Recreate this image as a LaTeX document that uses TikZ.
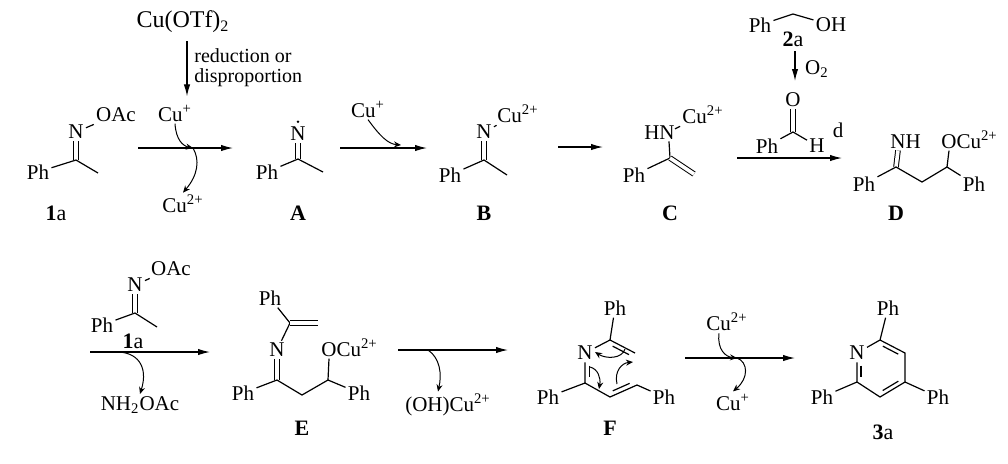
\documentclass[tikz,border=0pt]{standalone}
\usepackage{fontspec}
\setmainfont{Liberation Serif}
\usetikzlibrary{arrows.meta,calc}
\tikzset{
    atom-label/.style = {inner sep=1pt, font=\fontsize{10.5}{12}\selectfont},
    cmpd-label/.style = {inner sep=1pt, font=\fontsize{11}{12}\selectfont},
    note-text/.style = {inner sep=0pt, align=left, font=\fontsize{10}{10}\selectfont},
    bond/.style = {line width=0.6pt},
    dbl-bond/.style = {double, line width=0.5pt, double distance=1.8pt},
    rxn-arrow/.style = {line width=0.6pt, -{Latex[length=6pt,width=3.2pt]}},
    e-arrow/.style = {line width=0.5pt, -{Stealth[length=3.5pt,width=3pt]}},
}

\begin{document}
\begin{tikzpicture}[x=0.5pt, y=-0.5pt]
\useasboundingbox (0,0) rectangle (1008,463);

% ---- 1a
\node[atom-label] (n-1a) at (76,132) {N};
\node[atom-label] (oac-1a) at (116,115) {OAc};
\coordinate (c-1a) at (76,160);
\node[atom-label] (ph-1a) at (38,172) {Ph};
\coordinate (me-1a) at (98,173);
\draw[bond] (n-1a) -- (oac-1a);
\draw[dbl-bond] (n-1a) -- (c-1a);
\draw[bond] (ph-1a) -- (c-1a) -- (me-1a);
\node[cmpd-label] (lbl-1a) at (56,213) {\textbf{1}a};

% ---- Cu(OTf)2 -> Cu+
\node[atom-label, font=\fontsize{12}{12}\selectfont] (cuotf) at (183,22) {Cu(OTf)\textsubscript{2}};
\node[atom-label] (cu-a) at (175,113) {Cu\textsuperscript{+}};
\draw[rxn-arrow] ([xshift=2pt,yshift=-3pt]cuotf.south) -- ([xshift=6pt,yshift=3pt]cu-a.north);
\node[note-text, anchor=west] (red-note) at (194,68) {reduction or\\disproportion};

% 1a -> A
\coordinate (arr1-s) at (138,148);
\coordinate (arr1-e) at (233,148);
\draw[rxn-arrow] (arr1-s) -- (arr1-e);
\node[atom-label] (cu2-a) at (183,204) {Cu\textsuperscript{2+}};
\coordinate (arr1-m) at (193,148);
\draw[e-arrow] (cu-a.south) .. controls (176,140) and (183,146) .. (arr1-m);
\draw[e-arrow] (arr1-m) .. controls (200,160) and (198,175) .. (cu2-a.north);

% ---- A
\node[atom-label] (n-A) at (298,134) {N};
\fill ([yshift=1.5pt]n-A.north) circle (0.7pt);
\coordinate (c-A) at (298,159);
\node[atom-label] (ph-A) at (267,172) {Ph};
\coordinate (me-A) at (323,172);
\draw[dbl-bond] (n-A) -- (c-A);
\draw[bond] (ph-A) -- (c-A) -- (me-A);
\node[cmpd-label] (lbl-A) at (298,213) {\textbf{A}};

% A -> B
\coordinate (arr2-s) at (340,148);
\coordinate (arr2-e) at (427,148);
\draw[rxn-arrow] (arr2-s) -- (arr2-e);
\node[atom-label] (cu-b) at (368,109) {Cu\textsuperscript{+}};
\coordinate (arr2-m) at (401,145);
\draw[e-arrow] (cu-b.south) .. controls (380,136) and (388,144) .. (arr2-m);

% ---- B
\node[atom-label] (n-B) at (484,132) {N};
\node[atom-label] (cu-B) at (518,114) {Cu\textsuperscript{2+}};
\coordinate (c-B) at (484,160);
\node[atom-label] (ph-B) at (450,175) {Ph};
\coordinate (me-B) at (507,175);
\draw[bond] (n-B) -- (cu-B);
\draw[dbl-bond] (n-B) -- (c-B);
\draw[bond] (ph-B) -- (c-B) -- (me-B);
\node[cmpd-label] (lbl-B) at (484,213) {\textbf{B}};

% B -> C
\coordinate (arr3-s) at (558,147);
\coordinate (arr3-e) at (603,147);
\draw[rxn-arrow] (arr3-s) -- (arr3-e);

% ---- C
\node[atom-label, anchor=base east] (hn-C) at (677,139) {HN};
\node[atom-label] (cu-C) at (703,115) {Cu\textsuperscript{2+}};
\coordinate (c-C) at (670,158);
\node[atom-label] (ph-C) at (634,175) {Ph};
\coordinate (ch2-C) at (694,174);
\draw[bond] (hn-C.north east) ++(-1pt,-3pt) -- (cu-C);
\draw[bond] ([xshift=-4pt]hn-C.south east) -- (c-C);
\draw[bond] (ph-C) -- (c-C);
\draw[dbl-bond] (c-C) -- (ch2-C);
\node[cmpd-label] (lbl-C) at (670,213) {\textbf{C}};

% ---- 2a -> PhCHO
\node[atom-label] (ph-2a) at (760,25) {Ph};
\node[atom-label] (oh-2a) at (831,25) {OH};
\coordinate (ch2-2a) at (793,14);
\draw[bond] (ph-2a) -- (ch2-2a) -- (oh-2a);
\node[cmpd-label] (lbl-2a) at (793,39) {\textbf{2}a};
\coordinate (ox-s) at (795,51);
\coordinate (ox-e) at (795,81);
\draw[rxn-arrow] (ox-s) -- (ox-e);
\node[atom-label] (o2) at (817,69) {O\textsubscript{2}};
\node[atom-label] (o-ald) at (793,100) {O};
\coordinate (c-ald) at (793,132);
\node[atom-label] (ph-ald) at (767,146) {Ph};
\node[atom-label] (h-ald) at (817,146) {H};
\node[atom-label] (d-note) at (838,130) {d};
\draw[dbl-bond] (o-ald) -- (c-ald);
\draw[bond] (ph-ald) -- (c-ald) -- (h-ald);

% C -> D
\coordinate (arr4-s) at (737,158);
\coordinate (arr4-e) at (842,158);
\draw[rxn-arrow] (arr4-s) -- (arr4-e);

% ---- D
\node[atom-label, anchor=base west] (nh-D) at (888,148) {NH};
\coordinate (c-D) at (896,167);
\node[atom-label] (ph-D) at (864,184) {Ph};
\coordinate (ch2-D) at (922,182);
\coordinate (ch-D) at (947,167);
\node[atom-label, anchor=base west] (ocu-D) at (939,148) {OCu\textsuperscript{2+}};
\node[atom-label] (ph2-D) at (974,184) {Ph};
\draw[dbl-bond] ([xshift=5pt]nh-D.south west) -- (c-D);
\draw[bond] (ph-D) -- (c-D) -- (ch2-D) -- (ch-D) -- (ph2-D);
\draw[bond] (ch-D) -- ([xshift=5pt]ocu-D.south west);
\node[cmpd-label] (lbl-D) at (896,213) {\textbf{D}};

% ---- 1a (second row)
\node[atom-label] (n-1b) at (135,285) {N};
\node[atom-label] (oac-1b) at (171,269) {OAc};
\coordinate (c-1b) at (135,313);
\node[atom-label] (ph-1b) at (102,325) {Ph};
\coordinate (me-1b) at (157,327);
\draw[bond] (n-1b) -- (oac-1b);
\draw[dbl-bond] (n-1b) -- (c-1b);
\draw[bond] (ph-1b) -- (c-1b) -- (me-1b);
\node[cmpd-label] (lbl-1b) at (133,341) {\textbf{1}a};

% D -> E
\coordinate (arr5-s) at (90,352);
\coordinate (arr5-e) at (210,352);
\draw[rxn-arrow] (arr5-s) -- (arr5-e);
\coordinate (arr5-m) at (117,352);
\node[atom-label] (nh2oac) at (140,405) {NH\textsubscript{2}OAc};
\draw[e-arrow] (arr5-m) .. controls (136,352) and (149,365) .. (nh2oac.north);

% ---- E
\node[atom-label] (ph-E) at (270,298) {Ph};
\coordinate (cv-E) at (290,323);
\coordinate (ch2-E) at (318,323);
\node[atom-label] (n-E) at (277,350) {N};
\coordinate (c-E) at (277,380);
\node[atom-label] (ph2-E) at (243,393) {Ph};
\coordinate (ch2b-E) at (302,395);
\coordinate (ch-E) at (328,380);
\node[atom-label, anchor=base west] (ocu-E) at (319,356) {OCu\textsuperscript{2+}};
\node[atom-label] (ph3-E) at (359,393) {Ph};
\draw[bond] (ph-E) -- (cv-E) -- (n-E);
\draw[dbl-bond] (cv-E) -- (ch2-E);
\draw[dbl-bond] (n-E) -- (c-E);
\draw[bond] (ph2-E) -- (c-E) -- (ch2b-E) -- (ch-E) -- (ph3-E);
\draw[bond] (ch-E) -- ([xshift=5pt]ocu-E.south west);
\node[cmpd-label] (lbl-E) at (302,428) {\textbf{E}};

% E -> F
\coordinate (arr6-s) at (398,350);
\coordinate (arr6-e) at (508,350);
\draw[rxn-arrow] (arr6-s) -- (arr6-e);
\coordinate (arr6-m) at (428,350);
\node[atom-label] (ohcu) at (448,405) {(OH)Cu\textsuperscript{2+}};
\draw[e-arrow] (arr6-m) .. controls (440,358) and (442,374) .. ([xshift=-5pt]ohcu.north);

% ---- F
\coordinate (ctr-F) at (610,368);
\node[atom-label] (ph-F) at (615,308) {Ph};
\coordinate (c2-F) at (610,340);
\coordinate (ch2-F) at (635,353);
\node[atom-label] (n-F) at (585,353) {N};
\coordinate (c6-F) at (585,383);
\coordinate (c5-F) at (610,397);
\coordinate (c4-F) at (637,385);
\node[atom-label] (ph2-F) at (548,397) {Ph};
\node[atom-label] (ph3-F) at (664,397) {Ph};
\draw[bond] (ph-F) -- (c2-F) -- (ch2-F);
\draw[bond] (c2-F) -- (n-F);
\draw[bond] (n-F) -- (c6-F) -- (c5-F) -- (c4-F) -- (ph3-F);
\draw[bond] (ph2-F) -- (c6-F);
\draw[bond, shorten <=1.5pt, shorten >=1pt] ($(c2-F)!.17!(ctr-F)$) -- ($(ch2-F)!.17!(ctr-F)$);
\draw[bond, shorten <=5pt, shorten >=1.5pt] ($(n-F.center)!.17!(ctr-F)$) -- ($(c6-F)!.17!(ctr-F)$);
\draw[bond, shorten <=1.5pt, shorten >=1.5pt] ($(c5-F)!.17!(ctr-F)$) -- ($(c4-F)!.17!(ctr-F)$);
\draw[e-arrow] (625,349) .. controls (622,359) and (606,359) .. (595,352);
\draw[e-arrow] (590,367) .. controls (598,369) and (601,378) .. (599,389);
\draw[e-arrow] (617,384) .. controls (614,371) and (622,363) .. (633,362);
\node[cmpd-label] (lbl-F) at (610,428) {\textbf{F}};

% F -> 3a
\coordinate (arr7-s) at (685,358);
\coordinate (arr7-e) at (795,358);
\draw[rxn-arrow] (arr7-s) -- (arr7-e);
\node[atom-label] (cu2-f) at (727,322) {Cu\textsuperscript{2+}};
\node[atom-label] (cu-f) at (733,402) {Cu\textsuperscript{+}};
\coordinate (arr7-m) at (737,358);
\draw[e-arrow] ([xshift=-4pt]cu2-f.south) .. controls (717,350) and (726,357) .. (arr7-m);
\draw[e-arrow] (arr7-m) .. controls (748,362) and (749,378) .. (cu-f.north);

% ---- 3a
\coordinate (ctr-3a) at (881,368);
\node[atom-label] (ph-3a) at (888,308) {Ph};
\coordinate (c2-3a) at (880,340);
\node[atom-label] (n-3a) at (857,353) {N};
\coordinate (c3-3a) at (905,353);
\coordinate (c4-3a) at (905,382);
\coordinate (c5-3a) at (880,397);
\coordinate (c6-3a) at (857,382);
\node[atom-label] (ph2-3a) at (822,397) {Ph};
\node[atom-label] (ph3-3a) at (938,397) {Ph};
\draw[bond] (ph-3a) -- (c2-3a) -- (c3-3a) -- (c4-3a) -- (c5-3a) -- (c6-3a) -- (n-3a) -- (c2-3a);
\draw[bond] (ph2-3a) -- (c6-3a);
\draw[bond] (ph3-3a) -- (c4-3a);
\draw[bond, shorten <=1.5pt, shorten >=1.5pt] ($(c2-3a)!.17!(ctr-3a)$) -- ($(c3-3a)!.17!(ctr-3a)$);
\draw[bond, shorten <=5pt, shorten >=1.5pt] ($(n-3a.center)!.17!(ctr-3a)$) -- ($(c6-3a)!.17!(ctr-3a)$);
\draw[bond, shorten <=1.5pt, shorten >=1.5pt] ($(c4-3a)!.17!(ctr-3a)$) -- ($(c5-3a)!.17!(ctr-3a)$);
\node[cmpd-label] (lbl-3a) at (883,432) {\textbf{3}a};
\end{tikzpicture}
\end{document}
